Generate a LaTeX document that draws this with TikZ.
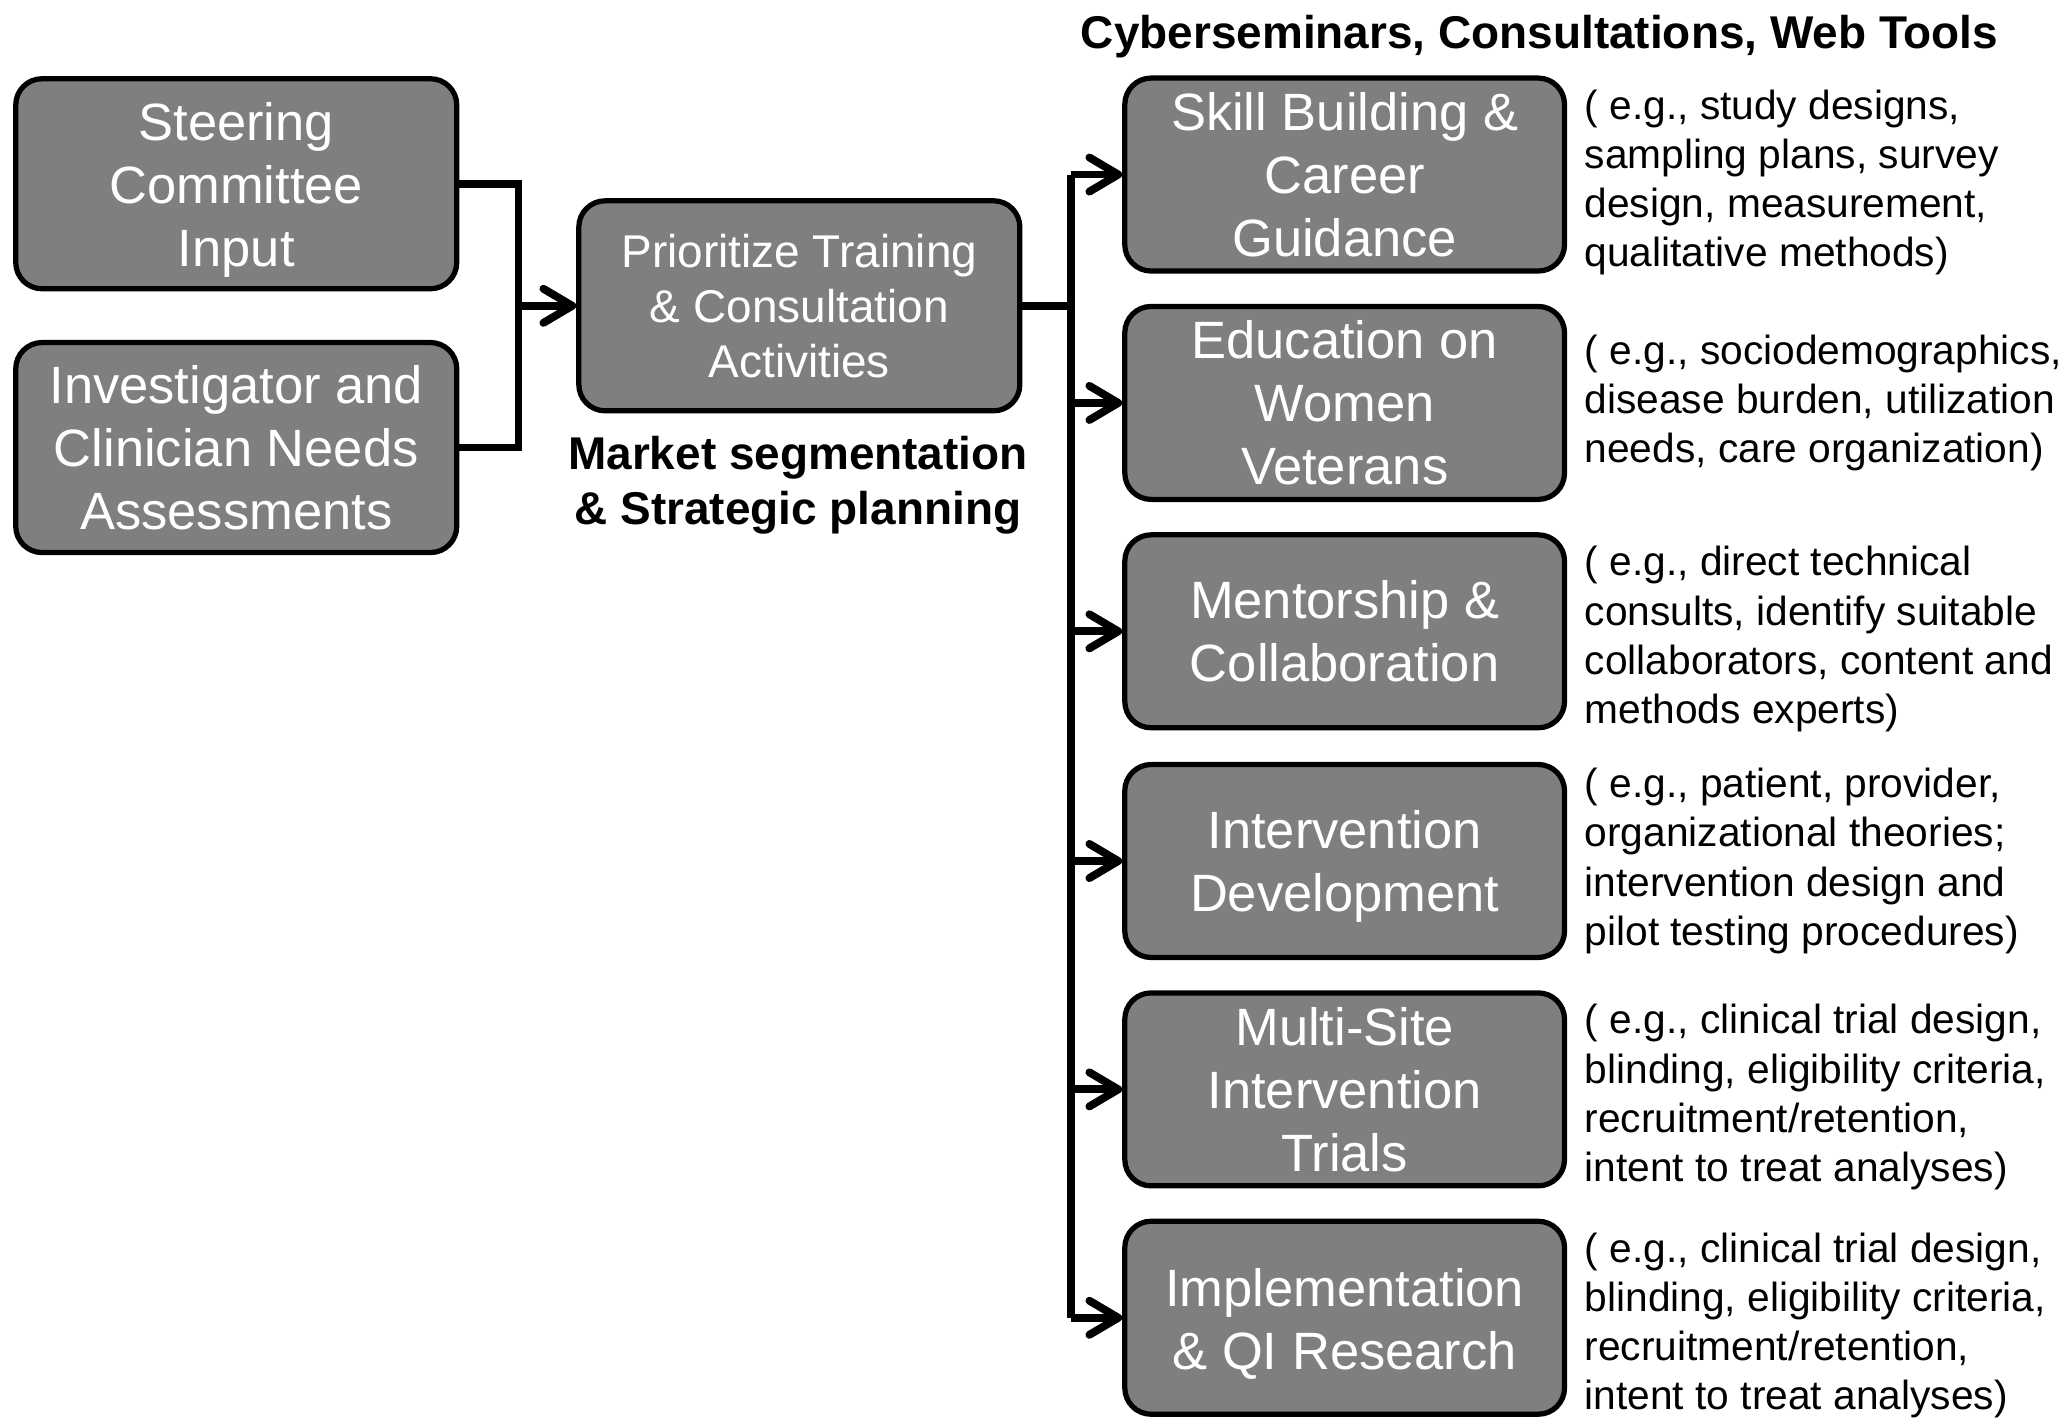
\documentclass[tikz,border=0pt]{standalone}
\usepackage{fontspec}
\setmainfont{Liberation Sans}
\usetikzlibrary{positioning,arrows.meta}
\definecolor{boxgray}{HTML}{7F7F7F}
\tikzset{
	box/.style={draw=black,line width=2pt,fill=boxgray,rounded corners=10pt,text=white,align=center,inner sep=0pt,minimum width=168pt,minimum height=80pt,font=\fontsize{20}{24}\selectfont},
	sbox/.style={box,minimum width=167.5pt,minimum height=73.5pt},
	note/.style={align=left,inner sep=0pt,font=\fontsize{15.5}{18.75}\selectfont},
	lbl/.style={align=center,inner sep=0pt,font=\bfseries\fontsize{17.5}{21}\selectfont},
	conn/.style={line width=3pt},
	arr/.style={conn,-{Straight Barb[length=11pt,width=13pt,round]}}
}
% lower a centred block of lines without changing its size
\newcommand{\lowtext}[2]{\raisebox{-#1}[\height][\depth]{\parbox{164pt}{\centering #2}}}
% #1: node name, #2: y of the box, #3: box text, #4: note text, #5: note shift
\newcommand{\mkstep}[5]{%
	\node[sbox] (#1) at (1024.5,#2) {#3};
	\node[note,right=6.5pt of #1,yshift=#5] (#1n) {#4};
}

\begin{document}
\begin{tikzpicture}[x=0.5pt,y=-0.5pt]
	\useasboundingbox (0,0) rectangle (1568,1080);

	% Inputs
	\node[box] (steer) at (180,140) {\lowtext{2.5pt}{Steering\\Committee\\Input}};
	\node[box] (needs) at (180,341) {Investigator and\\Clinician Needs\\Assessments};

	% Prioritize
	\node[box,font=\fontsize{17.5}{21}\selectfont] (prio) at (609,233) {Prioritize Training\\\& Consultation\\Activities};
	\node[lbl] (mkt) at (608,370) {Market segmentation\\\& Strategic planning};

	% Title
	\node[lbl] (title) at (1173,28) {Cyberseminars, Consultations, Web Tools};

	% Steps
	\mkstep{skill}{133}{Skill Building \&\\Career\\Guidance}{( e.g., study designs,\\sampling plans, survey\\design, measurement,\\qualitative methods)}{-3pt}
	\mkstep{edu}{307}{Education on\\Women\\Veterans}{( e.g., sociodemographics,\\disease burden, utilization\\needs, care organization)}{0pt}
	\mkstep{ment}{481}{Mentorship \&\\Collaboration}{( e.g., direct technical\\consults, identify suitable\\collaborators, content and\\methods experts)}{-3pt}
	\mkstep{inter}{656}{\lowtext{2pt}{Intervention\\Development}}{( e.g., patient, provider,\\organizational theories;\\intervention design and\\pilot testing procedures)}{0pt}
	\mkstep{multi}{830}{Multi-Site\\Intervention\\Trials}{( e.g., clinical trial design,\\blinding, eligibility criteria,\\recruitment/retention,\\intent to treat analyses)}{-3pt}
	\mkstep{impl}{1004}{\lowtext{2.5pt}{Implementation\\\& QI Research}}{( e.g., clinical trial design,\\blinding, eligibility criteria,\\recruitment/retention,\\intent to treat analyses)}{-3pt}

	% Connectors
	\coordinate (jl) at (395,233);
	\coordinate (jr) at (816,233);
	\draw[conn] (steer.east) -| (jl) |- (needs.east);
	\draw[arr] (jl) -- (prio.west);
	\draw[conn] (prio.east) -- (jr);
	\draw[conn] (skill.west -| jr) -- (impl.west -| jr);
	\foreach \s in {skill,edu,ment,inter,multi,impl}
		\draw[arr] (\s.west -| jr) -- (\s.west);
\end{tikzpicture}
\end{document}
